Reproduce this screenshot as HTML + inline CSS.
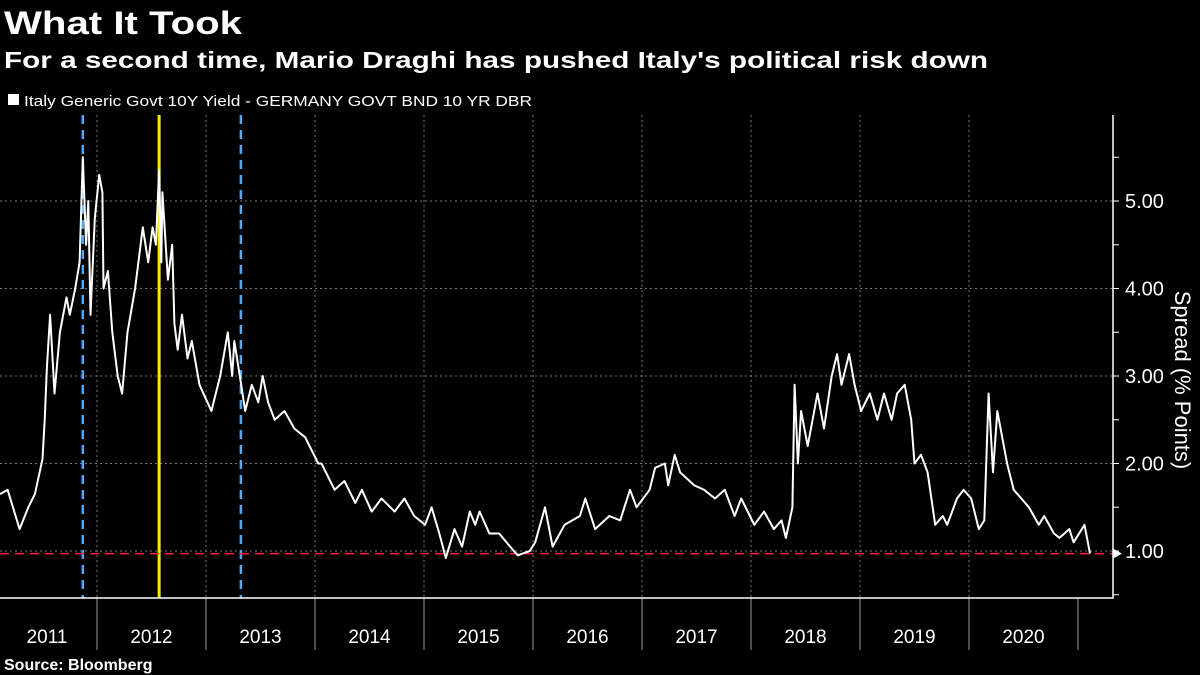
<!DOCTYPE html>
<html><head><meta charset="utf-8"><style>
html,body{margin:0;padding:0;background:#000;}
svg{display:block;font-family:"Liberation Sans",sans-serif;}
</style></head><body>
<svg id="chart" width="1200" height="675" viewBox="0 0 1200 675">
<text x="4" y="34" fill="#fff" font-size="32" font-weight="bold" textLength="238" lengthAdjust="spacingAndGlyphs">What It Took</text>
<text x="4" y="68" fill="#fff" font-size="23" font-weight="bold" textLength="984" lengthAdjust="spacingAndGlyphs">For a second time, Mario Draghi has pushed Italy's political risk down</text>
<rect x="8" y="94" width="11" height="11" fill="#fff"/>
<text x="24" y="106" fill="#fff" font-size="15" textLength="508" lengthAdjust="spacingAndGlyphs">Italy Generic Govt 10Y Yield - GERMANY GOVT BND 10 YR DBR</text>
<g id="grid"></g><g id="marks"></g><g id="axes"></g>
<text transform="translate(1175,380) rotate(90)" fill="#fff" font-size="22" text-anchor="middle">Spread (% Points)</text>
<text x="4" y="670" fill="#fff" font-size="16" font-weight="bold">Source: Bloomberg</text>
</svg>
<script>
const dates=[2011.11,2011.18,2011.29,2011.37,2011.43,2011.50,2011.52,2011.54,2011.57,2011.61,2011.66,2011.72,2011.75,2011.80,2011.84,2011.87,2011.90,2011.92,2011.94,2011.98,2012.02,2012.05,2012.06,2012.10,2012.14,2012.19,2012.23,2012.28,2012.35,2012.42,2012.47,2012.51,2012.54,2012.57,2012.59,2012.60,2012.63,2012.65,2012.69,2012.71,2012.74,2012.78,2012.83,2012.87,2012.94,2013.05,2013.13,2013.20,2013.24,2013.26,2013.31,2013.36,2013.42,2013.48,2013.52,2013.57,2013.63,2013.72,2013.81,2013.91,2014.03,2014.06,2014.18,2014.27,2014.37,2014.43,2014.52,2014.61,2014.73,2014.82,2014.91,2015.01,2015.07,2015.14,2015.20,2015.28,2015.35,2015.42,2015.47,2015.51,2015.60,2015.69,2015.79,2015.86,2015.97,2016.02,2016.11,2016.18,2016.29,2016.43,2016.48,2016.57,2016.70,2016.80,2016.89,2016.95,2017.07,2017.12,2017.21,2017.24,2017.30,2017.35,2017.48,2017.57,2017.67,2017.76,2017.85,2017.91,2018.03,2018.12,2018.21,2018.28,2018.32,2018.38,2018.40,2018.43,2018.46,2018.52,2018.61,2018.67,2018.74,2018.79,2018.83,2018.90,2018.95,2019.01,2019.09,2019.16,2019.22,2019.29,2019.34,2019.41,2019.47,2019.50,2019.56,2019.62,2019.69,2019.76,2019.80,2019.89,2019.95,2020.02,2020.09,2020.14,2020.18,2020.22,2020.26,2020.35,2020.41,2020.48,2020.55,2020.64,2020.69,2020.78,2020.83,2020.92,2020.96,2021.06,2021.11];
const spread=[1.65,1.7,1.25,1.5,1.65,2.05,2.5,3.1,3.7,2.8,3.5,3.9,3.7,4.0,4.3,5.5,4.5,5.0,3.7,4.8,5.3,5.1,4.0,4.2,3.5,3.0,2.8,3.5,4.0,4.7,4.3,4.7,4.5,5.35,4.3,5.1,4.5,4.1,4.5,3.6,3.3,3.7,3.2,3.4,2.9,2.6,3.0,3.5,3.0,3.4,3.0,2.6,2.9,2.7,3.0,2.7,2.5,2.6,2.4,2.3,2.0,2.0,1.7,1.8,1.55,1.7,1.45,1.6,1.45,1.6,1.4,1.3,1.5,1.2,0.92,1.25,1.05,1.45,1.3,1.45,1.2,1.2,1.05,0.95,1.0,1.1,1.5,1.05,1.3,1.4,1.6,1.25,1.4,1.35,1.7,1.5,1.7,1.95,2.0,1.75,2.1,1.9,1.75,1.7,1.6,1.7,1.4,1.6,1.3,1.45,1.25,1.35,1.15,1.5,2.9,2.0,2.6,2.2,2.8,2.4,3.0,3.25,2.9,3.25,2.9,2.6,2.8,2.5,2.8,2.5,2.8,2.9,2.5,2.0,2.1,1.9,1.3,1.4,1.3,1.6,1.7,1.6,1.25,1.35,2.8,1.9,2.6,2.0,1.7,1.6,1.5,1.3,1.4,1.2,1.15,1.25,1.1,1.3,0.97];
const yTicks=[1,2,3,4,5];
const years=[2011,2012,2013,2014,2015,2016,2017,2018,2019,2020];
const eventDates=[2011.87,2012.57,2013.32];
const refLevel=0.97;
const X=d=>97+(d-2012)*109;
const Y=v=>551-(v-1)*87.5;
const NS='http://www.w3.org/2000/svg';
function mk(parent,tag,attrs){const e=document.createElementNS(NS,tag);for(const k in attrs)e.setAttribute(k,attrs[k]);document.getElementById(parent).appendChild(e);return e;}
const L=0,R=1113,T=115,B=598;
yTicks.forEach(v=>{
 const g=mk('grid','line',{x1:L,x2:R,y1:Y(v),y2:Y(v),stroke:'#777','stroke-width':1,'stroke-dasharray':'2,3'});
 
 
 const t=mk('axes','text',{x:1125,y:Y(v)+7,fill:'#fff','font-size':20});
 t.textContent=v.toFixed(2);
 
 
});
for(let v=0.5;v<=5.5;v+=0.5){const tk=mk('axes','line',{x1:R,x2:R+6,y1:Y(v),y2:Y(v),stroke:'#fff','stroke-width':1});
 
 }
years.forEach(y=>{
 if(y>2011){const g=mk('grid','line',{x1:X(y),x2:X(y),y1:T,y2:B,stroke:'#777','stroke-width':1,'stroke-dasharray':'2,3'});
 
 }
 const s=mk('axes','line',{x1:X(y+1),x2:X(y+1),y1:B,y2:650,stroke:'#999','stroke-width':1});
 
 
 const t=mk('axes','text',{x:Math.max(X(y+0.5),47),y:643,fill:'#fff','font-size':19,'text-anchor':'middle'});
 t.textContent=y;
 
 
});
mk('axes','path',{d:`M${L} ${B}H${R}V${T}`,fill:'none',stroke:'#fff','stroke-width':1.5});
eventDates.forEach((d,i)=>{
 const l=mk('marks','line',{x1:X(d),x2:X(d),y1:T,y2:B,stroke:i==1?'#ffeb00':'#4aa8ff','stroke-width':i==1?3:2.5,'stroke-dasharray':i==1?'none':'9,6'});
 
 
});
const rl=mk('marks','line',{x1:L,x2:R,y1:Y(refLevel),y2:Y(refLevel),stroke:'#ff2040','stroke-width':1.5,'stroke-dasharray':'9,6'});


const p=mk('marks','path',{d:dates.map((d,i)=>(i?'L':'M')+X(d).toFixed(1)+' '+Y(spread[i]).toFixed(1)).join(''),fill:'none',stroke:'#fff','stroke-width':2,'stroke-linejoin':'round'});


const last=spread[spread.length-1];
const ar=mk('axes','path',{d:`M${R} ${Y(last)-5}l9 5l-9 5z`,fill:'#fff'});


</script>
</body></html>
